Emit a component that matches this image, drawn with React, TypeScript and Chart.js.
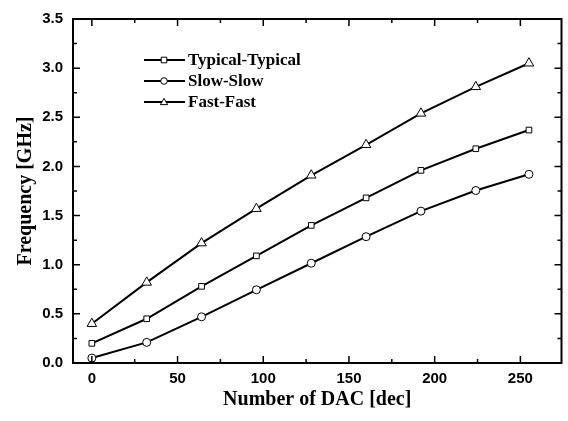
import React, { useEffect, useRef } from "react";
import { Chart, registerables } from "chart.js";

Chart.register(...registerables);

const dacValues = [0, 32, 64, 96, 128, 160, 192, 224, 255];
const typicalTypical = [0.2, 0.45, 0.78, 1.09, 1.4, 1.68, 1.96, 2.18, 2.37];
const slowSlow = [0.05, 0.21, 0.47, 0.745, 1.015, 1.285, 1.545, 1.755, 1.92];
const fastFast = [0.4, 0.82, 1.22, 1.57, 1.91, 2.22, 2.54, 2.81, 3.05];
const seriesNames = ["Typical-Typical", "Slow-Slow", "Fast-Fast"];
const seriesMarkers = ["rect", "circle", "triangle"];
const xTicks = [0, 50, 100, 150, 200, 250];
const xMinorTicks = [25, 75, 125, 175, 225, 275];
const yTicks = [0, 0.5, 1, 1.5, 2, 2.5, 3, 3.5];
const yMinorTicks = [0.25, 0.75, 1.25, 1.75, 2.25, 2.75, 3.25];

const SERIF = "'Liberation Serif', 'Times New Roman', serif";
const SANS = "'Liberation Sans', Arial, sans-serif";

function drawMarker(ctx: CanvasRenderingContext2D, style: string, x: number, y: number, r: number) {
  ctx.save();
  ctx.fillStyle = "#fff";
  ctx.strokeStyle = "#000";
  ctx.lineWidth = 1;
  ctx.beginPath();
  if (style === "rect") {
    ctx.rect(x - r * 0.85, y - r * 0.85, r * 1.7, r * 1.7);
  } else if (style === "circle") {
    ctx.arc(x, y, r, 0, Math.PI * 2);
  } else {
    ctx.moveTo(x, y - r * 1.1);
    ctx.lineTo(x + r * 1.1, y + r * 0.8);
    ctx.lineTo(x - r * 1.1, y + r * 0.8);
    ctx.closePath();
  }
  ctx.fill();
  ctx.stroke();
  ctx.restore();
}

const framePlugin = {
  id: "frame",
  afterDatasetsDraw(chart: any) {
    const { ctx, chartArea } = chart;
    const xs = chart.scales.x;
    const ys = chart.scales.y;
    const { left, right, top, bottom } = chartArea;
    ctx.save();
    ctx.strokeStyle = "#000";
    ctx.lineWidth = 2;
    ctx.strokeRect(left, top, right - left, bottom - top);
    ctx.lineWidth = 1.5;
    ctx.beginPath();
    const major = 7;
    const minor = 4;
    xTicks.forEach((v) => {
      const p = xs.getPixelForValue(v);
      ctx.moveTo(p, bottom);
      ctx.lineTo(p, bottom - major);
      ctx.moveTo(p, top);
      ctx.lineTo(p, top + major);
    });
    xMinorTicks.forEach((v) => {
      const p = xs.getPixelForValue(v);
      if (p > left && p < right) {
        ctx.moveTo(p, bottom);
        ctx.lineTo(p, bottom - minor);
        ctx.moveTo(p, top);
        ctx.lineTo(p, top + minor);
      }
    });
    yTicks.forEach((v) => {
      const p = ys.getPixelForValue(v);
      ctx.moveTo(left, p);
      ctx.lineTo(left + major, p);
      ctx.moveTo(right, p);
      ctx.lineTo(right - major, p);
    });
    yMinorTicks.forEach((v) => {
      const p = ys.getPixelForValue(v);
      ctx.moveTo(left, p);
      ctx.lineTo(left + minor, p);
      ctx.moveTo(right, p);
      ctx.lineTo(right - minor, p);
    });
    ctx.stroke();

    // legend
    const rows = [60, 81, 102];
    ctx.font = `bold 17px ${SERIF}`;
    ctx.textBaseline = "middle";
    ctx.fillStyle = "#000";
    rows.forEach((y, i) => {
      ctx.lineWidth = 1.8;
      ctx.beginPath();
      ctx.moveTo(144, y);
      ctx.lineTo(185, y);
      ctx.stroke();
      drawMarker(ctx, seriesMarkers[i], 164, y, 3.3);
      ctx.fillText(seriesNames[i], 188, y + 1);
    });
    ctx.restore();
  },
};

export default function App() {
  const canvasRef = useRef<HTMLCanvasElement | null>(null);

  useEffect(() => {
    document.body.style.margin = "0";
    const canvas = canvasRef.current;
    if (!canvas) return;
    const mk = (label: string, data: number[], style: string) => ({
      label,
      data: dacValues.map((x, i) => ({ x, y: data[i] })),
      borderColor: "#000",
      borderWidth: 2,
      backgroundColor: "#fff",
      pointStyle: style,
      pointRadius: style === "triangle" ? 5.5 : 4,
      pointBorderWidth: 1,
      pointBorderColor: "#000",
      pointBackgroundColor: "#fff",
      showLine: true,
      tension: 0,
    });
    const chart = new Chart(canvas, {
      type: "scatter",
      data: {
        datasets: [
          mk(seriesNames[0], typicalTypical, "rect"),
          mk(seriesNames[1], slowSlow, "circle"),
          mk(seriesNames[2], fastFast, "triangle"),
        ],
      },
      options: {
        animation: false,
        responsive: false,
        layout: { padding: { left: 0, right: 5, top: 15, bottom: 0 } },
        plugins: { legend: { display: false }, tooltip: { enabled: false } },
        scales: {
          x: {
            type: "linear",
            min: -11,
            max: 274,
            afterBuildTicks: (s: any) => {
              s.ticks = xTicks.map((v) => ({ value: v }));
            },
            afterFit: (s: any) => {
              s.height = 58;
            },
            grid: { display: false, drawTicks: false },
            border: { display: false },
            ticks: {
              padding: 7,
              color: "#000",
              font: { family: SANS, size: 15, weight: "bold" },
              maxRotation: 0,
              autoSkip: false,
            },
            title: {
              display: true,
              text: "Number of DAC [dec]",
              color: "#000",
              font: { family: SERIF, size: 20, weight: "bold" },
              padding: { top: 0, bottom: 9 },
            },
          },
          y: {
            type: "linear",
            min: 0,
            max: 3.5,
            afterBuildTicks: (s: any) => {
              s.ticks = yTicks.map((v) => ({ value: v }));
            },
            afterFit: (s: any) => {
              s.width = 73;
            },
            grid: { display: false, drawTicks: false },
            border: { display: false },
            ticks: {
              padding: 10,
              color: "#000",
              font: { family: SANS, size: 15, weight: "bold" },
              callback: (v: any) => Number(v).toFixed(1),
            },
            title: {
              display: true,
              text: "Frequency [GHz]",
              color: "#000",
              font: { family: SERIF, size: 20, weight: "bold" },
              padding: { top: 14, bottom: 0 },
            },
          },
        },
      } as any,
      plugins: [framePlugin],
    });
    return () => chart.destroy();
  }, []);

  return (
    <div style={{ width: 568, height: 421, background: "#fff" }}>
      <canvas ref={canvasRef} width={568} height={421} style={{ display: "block" }} />
    </div>
  );
}
